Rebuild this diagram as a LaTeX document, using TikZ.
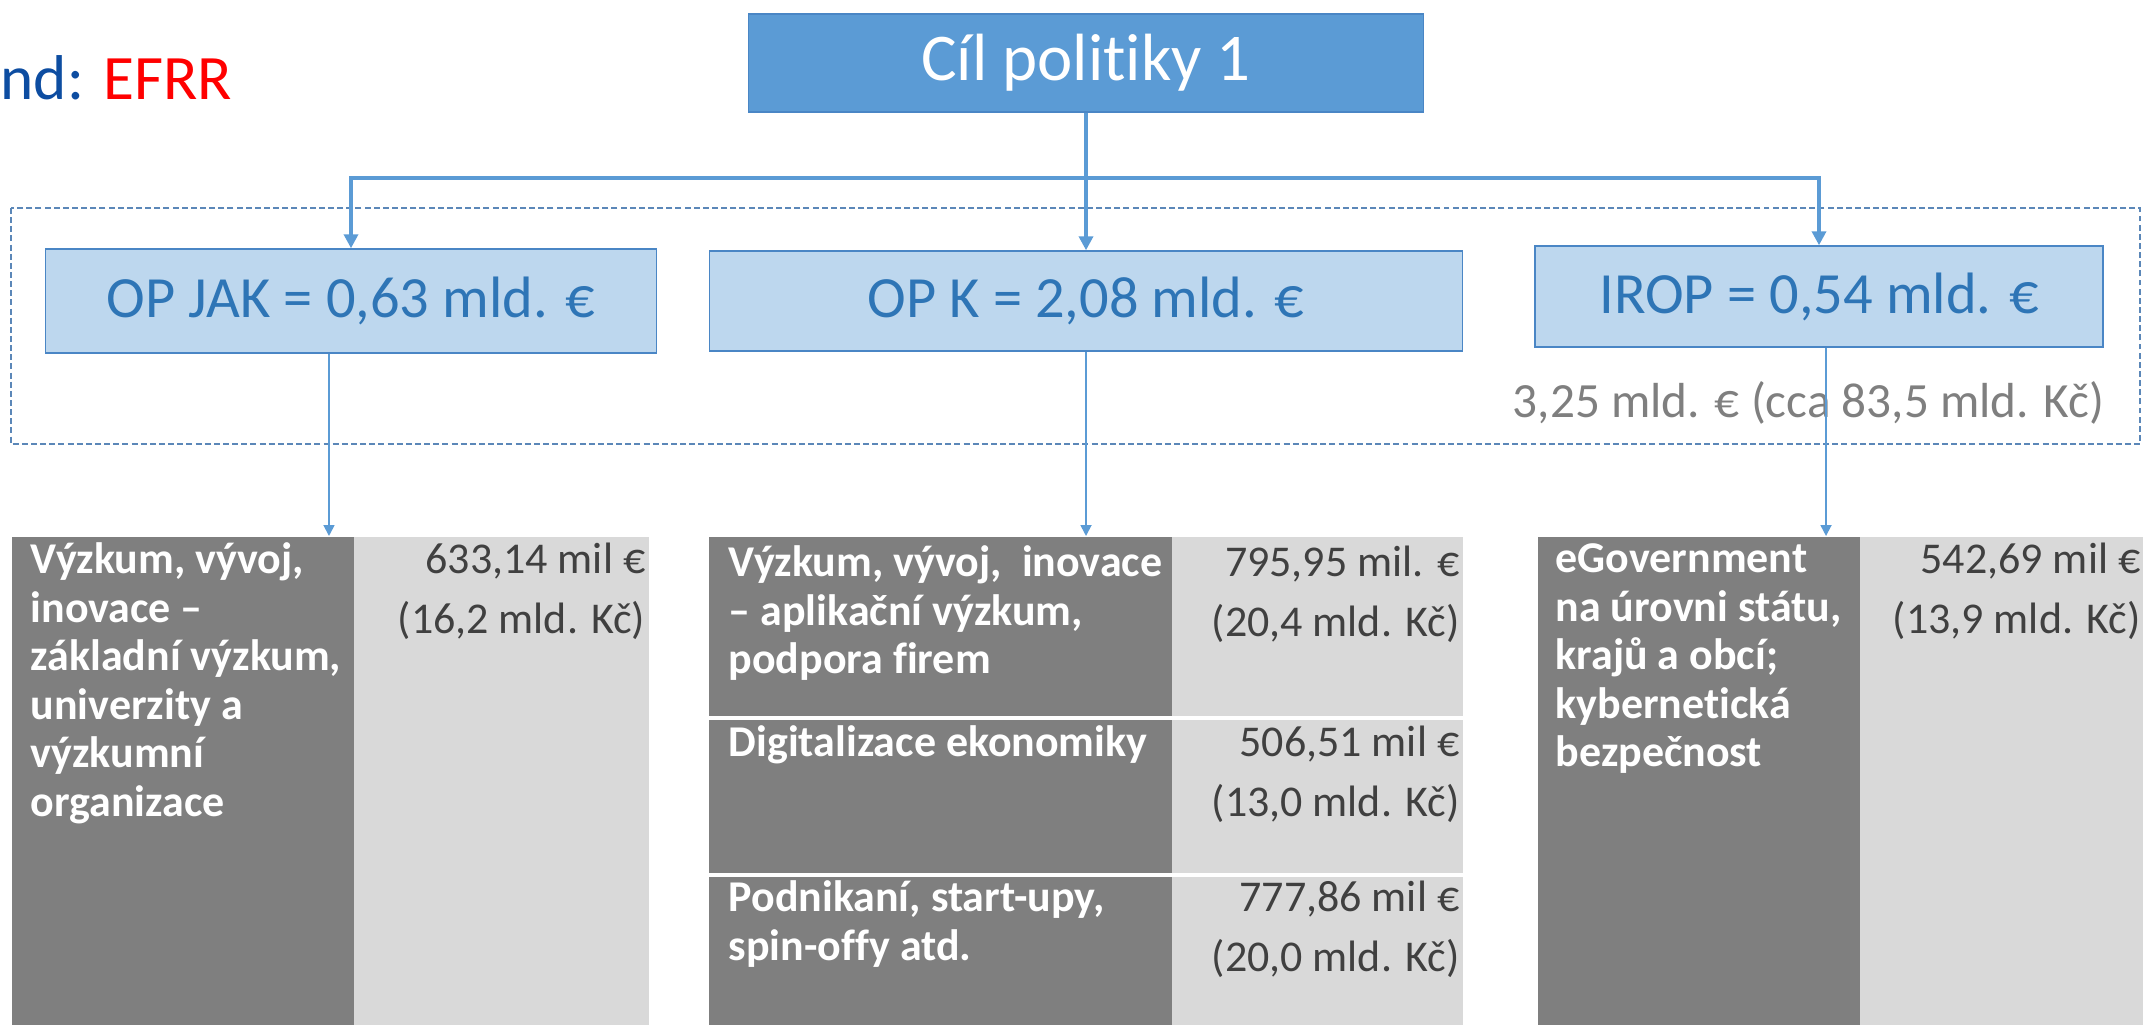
\documentclass[tikz,border=0pt]{standalone}
\usepackage{fontspec}
\setmainfont{Carlito}[Ligatures=CommonOff]
\usetikzlibrary{arrows.meta}
\definecolor{titre}{HTML}{5B9BD5}
\definecolor{bordtitre}{HTML}{4A86C5}
\definecolor{boite}{HTML}{BDD7EE}
\definecolor{texteboite}{HTML}{2E75B6}
\definecolor{fonce}{HTML}{7F7F7F}
\definecolor{clair}{HTML}{D9D9D9}
\definecolor{valeur}{HTML}{404040}
\definecolor{gris}{HTML}{7F7F7F}
\definecolor{pointille}{HTML}{5B87B8}
\definecolor{fond}{HTML}{0D4DA1}
\tikzset{
	op/.style={draw=bordtitre, fill=boite, text=texteboite, inner sep=0pt, font=\fontsize{16.6}{20}\selectfont},
	sombre/.style={fill=fonce, anchor=north west, inner sep=0pt},
	pale/.style={fill=clair, anchor=north west, inner sep=0pt},
	libelle/.style={anchor=north west, inner sep=0pt, text=white, align=left, font=\bfseries\fontsize{12.5}{13.8}\selectfont},
	montant/.style={anchor=north east, inner sep=0pt, text=valeur, align=right, font=\fontsize{12.5}{17.1}\selectfont},
	lien/.style={draw=titre, line width=1.1pt},
	chute/.style={draw=titre, line width=0.5pt, -{Triangle[length=1.1mm,width=1.1mm]}},
}
\newcommand{\haut}{\rule{0pt}{0.3cm}}
\begin{document}
\begin{tikzpicture}[x=0.01cm,y=-0.01cm]
	\useasboundingbox (0,0) rectangle (2143,1024);
%					Titre et fonds :
	\node[anchor=base west, inner sep=0pt, font=\fontsize{18}{20}\selectfont] (fonds) at (0,99) {\textcolor{fond}{nd:} \textcolor{red}{EFRR}};
	\node[draw=bordtitre, fill=titre, text=white, inner sep=0pt, minimum width=6.75cm, minimum height=0.98cm, font=\fontsize{19}{22}\selectfont] (cil) at (1086,63) {Cíl politiky 1};
%					Programmes :
	\draw[pointille, dashed, line width=0.35pt, dash pattern=on 1.7pt off 0.9pt] (11,208) rectangle (2140,444);
	\node[op, minimum width=6.11cm, minimum height=1.04cm] (jak) at (351,301) {OP JAK = 0,63 mld. €};
	\node[op, minimum width=7.53cm, minimum height=1.00cm] (opk) at (1086,301) {OP K = 2,08 mld. €};
	\node[op, minimum width=5.68cm, minimum height=1.01cm] (irop) at (1819,296.5) {IROP = 0,54 mld. €};
	\node[anchor=east, inner sep=0pt, text=gris, font=\fontsize{14}{16}\selectfont] (total) at (2105,403) {3,25 mld. € (cca 83,5 mld. Kč)};
%					Liens :
	\coordinate (bus) at (1086,178);
	\draw[lien] (cil.south) -- (bus);
	\draw[lien, -{Triangle[length=1.4mm,width=1.4mm]}] (bus) -| (jak.north);
	\draw[lien, -{Triangle[length=1.4mm,width=1.4mm]}] (bus) -- (opk.north);
	\draw[lien, -{Triangle[length=1.4mm,width=1.4mm]}] (bus) -| (irop.north);
%					Tableaux :
	\node[sombre, minimum width=3.42cm, minimum height=4.94cm] (jakd) at (11,536) {};
	\node[pale, minimum width=2.95cm, minimum height=4.94cm] (jakc) at (353,536) {};
	\node[sombre, minimum width=4.63cm, minimum height=1.79cm] (opkda) at (708,536) {};
	\node[pale, minimum width=2.91cm, minimum height=1.79cm] (opkca) at (1171,536) {};
	\node[sombre, minimum width=4.63cm, minimum height=1.53cm] (opkdb) at (708,719) {};
	\node[pale, minimum width=2.91cm, minimum height=1.53cm] (opkcb) at (1171,719) {};
	\node[sombre, minimum width=4.63cm, minimum height=1.54cm] (opkdc) at (708,876) {};
	\node[pale, minimum width=2.91cm, minimum height=1.54cm] (opkcc) at (1171,876) {};
	\node[sombre, minimum width=3.22cm, minimum height=4.94cm] (iropd) at (1537,536) {};
	\node[pale, minimum width=2.91cm, minimum height=4.94cm] (iropc) at (1859,536) {};
%					Textes des tableaux :
	\node[libelle] (jakt) at (30,542) {\haut Výzkum, vývoj,\\ inovace –\\ základní výzkum,\\ univerzity a\\ výzkumní\\ organizace};
	\node[montant] (jakm) at (646,542) {\haut 633,14 mil €\\ (16,2 mld. Kč)};
	\node[libelle] (opkta) at (728,545) {\haut Výzkum, vývoj,~ inovace\\ – aplikační výzkum,\\ podpora firem};
	\node[montant] (opkma) at (1460,545) {\haut 795,95 mil. €\\ (20,4 mld. Kč)};
	\node[libelle] (opktb) at (728,725) {\haut Digitalizace ekonomiky};
	\node[montant] (opkmb) at (1460,725) {\haut 506,51 mil €\\ (13,0 mld. Kč)};
	\node[libelle] (opktc) at (728,880) {\haut Podnikaní, start-upy,\\ spin-offy atd.};
	\node[montant] (opkmc) at (1460,880) {\haut 777,86 mil €\\ (20,0 mld. Kč)};
	\node[libelle] (iropt) at (1555,542) {\haut eGovernment\\ na úrovni státu,\\ krajů a obcí;\\ kybernetická\\ bezpečnost};
	\node[montant] (iropm) at (2141,542) {\haut 542,69 mil €\\ (13,9 mld. Kč)};
%					Chutes vers les tableaux :
	\coordinate (jakpied) at ([xshift=-2.2mm]jak.south);
	\coordinate (irop pied) at ([xshift=0.7mm]irop.south);
	\draw[chute] (jakpied) -- (jakpied |- jakd.north);
	\draw[chute] (opk.south) -- (opkda.north -| opk.south);
	\draw[chute] (irop pied) -- (irop pied |- iropd.north);
\end{tikzpicture}
\end{document}
